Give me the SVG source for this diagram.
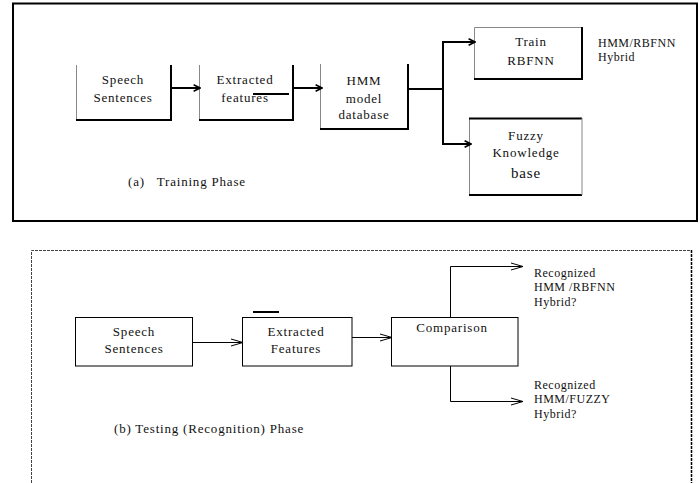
<svg xmlns="http://www.w3.org/2000/svg" width="700" height="483" viewBox="0 0 700 483" font-family="'Liberation Serif', 'Times New Roman', serif">
<defs>
<style>
text{font-family:'Liberation Serif','Times New Roman',serif;fill:#111;text-anchor:middle}
.t{font-size:13px;letter-spacing:0.8px}
.s{font-size:12px;letter-spacing:0.5px}
.l{text-anchor:start}
.thick{stroke:#000;stroke-width:2;fill:none}
.gray{stroke:#888;stroke-width:1;fill:none}
.thin{stroke:#000;stroke-width:1;fill:none}
</style>
<marker id="ah" viewBox="0 0 10 10" refX="9" refY="5" markerWidth="8" markerHeight="8" markerUnits="userSpaceOnUse" orient="auto">
<polyline points="1,1 9,5 1,9" fill="none" stroke="#000" stroke-width="2"/>
</marker>
<marker id="at" viewBox="0 0 14 10" refX="13" refY="5" markerWidth="14" markerHeight="10" markerUnits="userSpaceOnUse" orient="auto">
<polyline points="1,1.5 13,5 1,8.5" fill="none" stroke="#000" stroke-width="1"/>
</marker>
</defs>
<rect width="700" height="483" fill="#fff"/>

<g id="training-frame">
<rect x="13" y="3.5" width="684" height="217.5" fill="none" stroke="#000" stroke-width="2"/>
</g>

<g id="a-speech">
<path class="gray" d="M76.5,65 V120"/>
<path class="thick" d="M76,120 H171 V65"/>
<text class="t" x="123" y="84">Speech</text>
<text class="t" x="123" y="102">Sentences</text>
</g>
<g id="a-features">
<path class="gray" d="M199.5,65 V120"/>
<path class="thick" d="M199,120 H293 V65"/>
<text class="t" x="245" y="84">Extracted</text>
<text class="t" x="245" y="102">features</text>
<path class="thick" d="M253,94 H289" stroke-width="1.5"/>
</g>
<g id="a-hmm">
<path class="gray" d="M320.5,64 V129"/>
<path class="thick" d="M320,129 H408 V64"/>
<text class="t" x="364" y="85">HMM</text>
<text class="t" x="364" y="103">model</text>
<text class="t" x="364" y="119">database</text>
</g>
<g id="a-rbfnn">
<path class="gray" d="M474.5,79 V27.5 H582"/>
<path class="thick" d="M474,79 H582 V27"/>
<text class="t" x="531" y="46">Train</text>
<text class="t" x="531" y="65">RBFNN</text>
</g>
<g id="a-fuzzy">
<path class="gray" d="M469.5,195 V118.5"/>
<path class="thick" d="M469,118.5 H582 M469,195 H582"/>
<path class="gray" d="M582,118 V195"/>
<text class="t" x="526" y="140">Fuzzy</text>
<text class="t" x="526" y="157">Knowledge</text>
<text class="t" x="526" y="178" style="font-size:15px">base</text>
</g>
<g id="a-hybrid-label">
<text class="s l" x="598" y="47">HMM/RBFNN</text>
<text class="s l" x="598" y="61">Hybrid</text>
</g>
<g id="a-caption">
<text class="t l" x="128" y="186" xml:space="preserve">(a)   Training Phase</text>
</g>

<g id="testing-frame">
<path d="M31.5,483 V250.5 H691" fill="none" stroke="#444" stroke-width="1" stroke-dasharray="3,1"/>
<path d="M691.5,250 V483" fill="none" stroke="#000" stroke-width="1.5" stroke-dasharray="3,1"/>
</g>

<g id="b-speech">
<rect class="thin" x="75.5" y="317.5" width="117" height="48.5"/>
<text class="t" x="134" y="336">Speech</text>
<text class="t" x="134" y="353">Sentences</text>
</g>
<g id="b-features">
<rect class="thin" x="242.5" y="317.5" width="109.5" height="48.5"/>
<path class="thick" d="M253,312 H279"/>
<text class="t" x="296" y="336">Extracted</text>
<text class="t" x="296" y="353">Features</text>
</g>
<g id="b-comparison">
<rect class="thin" x="391.5" y="317.5" width="126.5" height="48.5"/>
<text class="t" x="452" y="332">Comparison</text>
</g>
<g id="b-out1">
<text class="s l" x="534" y="277">Recognized</text>
<text class="s l" x="534" y="291">HMM /RBFNN</text>
<text class="s l" x="534" y="306">Hybrid?</text>
</g>
<g id="b-out2">
<text class="s l" x="534" y="389">Recognized</text>
<text class="s l" x="534" y="403">HMM/FUZZY</text>
<text class="s l" x="534" y="418">Hybrid?</text>
</g>
<g id="b-caption">
<text class="t l" x="114" y="433">(b) Testing (Recognition) Phase</text>
</g>

<g id="connectors">
<path class="thick" d="M171,88 H200" marker-end="url(#ah)"/>
<path class="thick" d="M293,88 H322" marker-end="url(#ah)"/>
<path class="thick" d="M408,89 H443"/>
<path class="thick" d="M443,42 V144"/>
<path class="thick" d="M442,42 H475" marker-end="url(#ah)"/>
<path class="thick" d="M442,144 H471" marker-end="url(#ah)"/>
<path class="thin" d="M193,342.5 H243" marker-end="url(#at)"/>
<path class="thin" d="M352,337.5 H392" marker-end="url(#at)"/>
<path class="thin" d="M450.5,317 V266.5 H523" marker-end="url(#at)"/>
<path class="thin" d="M450.5,366 V401.5 H523" marker-end="url(#at)"/>
</g>
</svg>
